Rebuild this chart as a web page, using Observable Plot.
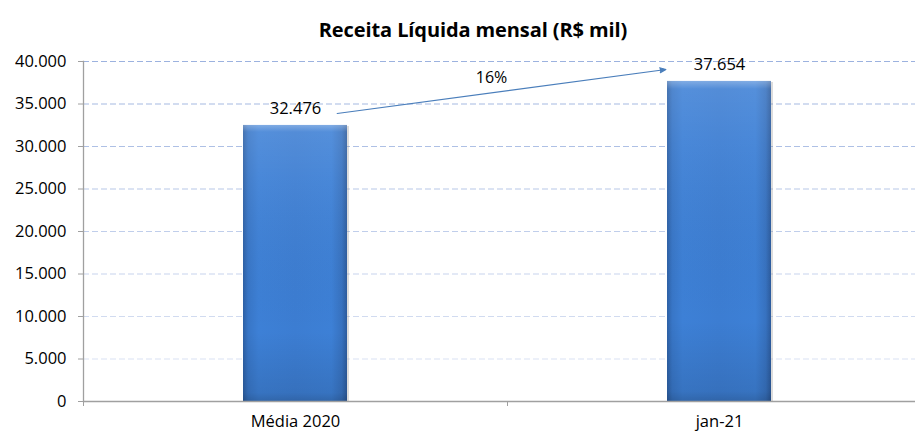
<!DOCTYPE html>
<html><head><meta charset="utf-8">
<script src="https://cdn.jsdelivr.net/npm/d3@7"></script>
<script src="https://cdn.jsdelivr.net/npm/@observablehq/plot@0.6"></script>
<style>
body{margin:0;background:#fff;}
#wrap{position:relative;width:915px;height:435px;overflow:hidden;}
#title{position:absolute;left:0;width:946px;top:16px;text-align:center;font:bold 20px "Open Sans",sans-serif;color:#000;letter-spacing:-0.1px;}
#chart{position:absolute;left:0;top:0;}
</style></head><body>
<div id="wrap"><div id="chart"></div><div id="title">Receita Líquida mensal (R$ mil)</div></div>
<script>
const categories = ["Média 2020", "jan-21"];
const values = [32476, 37654];
const yTicks = [0, 5000, 10000, 15000, 20000, 25000, 30000, 35000, 40000];
const growthLabel = "16%";

const locale = d3.formatLocale({decimal: ",", thousands: ".", grouping: [3], currency: ["R$", ""]});
const fmt = locale.format(",d");

const bars = categories.map((c, i) => ({cat: c, value: values[i]}));
const arrowData = [{from: categories[0], to: categories[1], v0: values[0], v1: values[1]}];
const gridColor = d3.interpolateRgb("#e3e9f6", "#9cb2df");

const svg = Plot.plot({
  width: 915,
  height: 435,
  marginTop: 61,
  marginBottom: 34,
  marginLeft: 83,
  marginRight: -16,
  style: {fontFamily: "'Open Sans', sans-serif", fontSize: "16.5px", color: "#000", background: "transparent"},
  x: {domain: categories, paddingInner: 0.755, paddingOuter: 0.3775, label: null},
  y: {domain: [0, 40000], label: null},
  marks: [
    Plot.ruleY(yTicks.slice(1), {stroke: d => gridColor(d / 40000), strokeDasharray: "6,3", strokeWidth: 1.2}),
    Plot.barY(bars, {x: "cat", y: "value", fill: "#8a8a8a", fillOpacity: 0.3, dx: 2, dy: 1}),
    Plot.barY(bars, {x: "cat", y: "value", fill: "url(#barH)"}),
    Plot.barY(bars, {x: "cat", y: "value", fill: "url(#barV)"}),
    Plot.ruleY([0], {stroke: "#a0a0a0", strokeWidth: 1.3}),
    Plot.axisY({ticks: yTicks, tickFormat: fmt, tickSize: 5, tickPadding: 12, stroke: "#a0a0a0", fill: "#000", fontSize: 16.5}),
    Plot.frame({anchor: "left", stroke: "#a0a0a0", strokeWidth: 1.3}),
    Plot.axisX({tickSize: 5, dx: -212, text: null, stroke: "#a0a0a0"}),
    Plot.axisX({tickSize: 0, tickPadding: 14, fill: "#000", fontSize: 16.5}),
    Plot.text(bars, {x: "cat", y: "value", text: d => fmt(d.value), dy: -17, fill: "#000", fontSize: 16.5}),
    Plot.arrow(arrowData, {x1: "from", y1: d => d.v0 + 750, x2: "to", y2: d => d.v1 + 2250,
      insetStart: 42, insetEnd: 54, stroke: "#4a7ebb", fill: "#4a7ebb", strokeWidth: 1.1, headLength: 9, headAngle: 45}),
    Plot.text(arrowData, {x: "to", y: d => d.v1 + 2250, text: () => growthLabel, dx: -228, dy: 16, fill: "#000", fontSize: 16})
  ]
});

const defs = d3.select(svg).insert("defs", ":first-child");
const gh = defs.append("linearGradient").attr("id", "barH").attr("x1", 0).attr("x2", 1).attr("y1", 0).attr("y2", 0);
[["0%", "#2d60a5"], ["5%", "#3876c7"], ["15%", "#3d80d6"], ["50%", "#3c7dd2"], ["85%", "#3d80d6"], ["95%", "#3772c0"], ["100%", "#2c5b9d"]]
  .forEach(([o, c]) => gh.append("stop").attr("offset", o).attr("stop-color", c));
const gv = defs.append("linearGradient").attr("id", "barV").attr("x1", 0).attr("x2", 0).attr("y1", 0).attr("y2", 1);
[["0%", "#ffffff", 0.35], ["2.5%", "#ffffff", 0.12], ["20%", "#ffffff", 0.06], ["75%", "#000000", 0.0], ["97%", "#000000", 0.1], ["100%", "#000000", 0.2]]
  .forEach(([o, c, a]) => gv.append("stop").attr("offset", o).attr("stop-color", c).attr("stop-opacity", a));

document.getElementById("chart").appendChild(svg);
</script>
</body></html>
